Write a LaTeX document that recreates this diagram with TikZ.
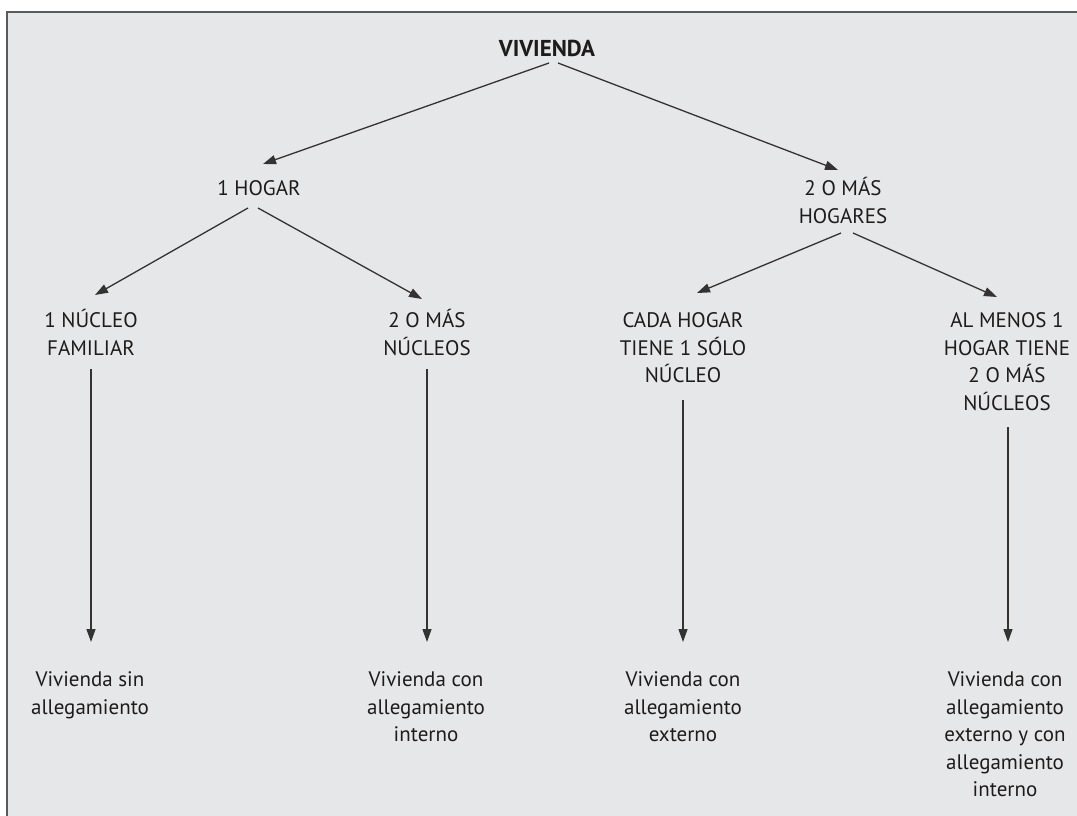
\documentclass[tikz,border=0pt]{standalone}
\usepackage{fontspec}
\setmainfont{PT Sans}
\usetikzlibrary{arrows.meta}
\definecolor{bg}{RGB}{230,231,232}
\definecolor{ink}{RGB}{30,27,28}
\definecolor{frame}{RGB}{90,90,90}
\begin{document}
\begin{tikzpicture}[x=1pt,y=-1pt,
  lbl/.style={anchor=north,inner sep=0pt,align=center,text height=#1,text=ink,
    font=\fontsize{21}{27.5}\selectfont},
  lbl/.default=14.5pt,
  head/.style={lbl=16pt,font=\fontsize{23}{27.5}\selectfont\bfseries},
  arr/.style={draw=ink!90,line width=1.3pt,-{Triangle[length=13pt,width=9pt]}}]
\useasboundingbox (0,0) rectangle (1077,816);
\clip (0,0) rectangle (1077,816);
\fill[white] (0,0) rectangle (1077,816);
\fill[bg] (7,12) rectangle (1090,830);
\draw[frame,line width=2.2pt] (7,830) -- (7,12) -- (1090,12);
% nodes
\node[head] (viv) at (547,40) {VIVIENDA};
\node[lbl] (h1) at (259,181) {1 HOGAR};
\node[lbl=42pt] (h2) at (843,181) {2 O MÁS\\HOGARES};
\node[lbl=42pt] (n1) at (91,313) {1 NÚCLEO\\FAMILIAR};
\node[lbl=42pt] (n2) at (427,313) {2 O MÁS\\NÚCLEOS};
\node[lbl=69.5pt] (cada) at (683,313) {CADA HOGAR\\TIENE 1 SÓLO\\NÚCLEO};
\node[lbl=97pt] (alm) at (1007,313) {AL MENOS 1\\HOGAR TIENE\\2 O MÁS\\NÚCLEOS};
\node[lbl=42pt] (b1) at (90,672) {Vivienda sin\\allegamiento};
\node[lbl=69.5pt] (b2) at (426,672) {Vivienda con\\allegamiento\\interno};
\node[lbl=69.5pt] (b3) at (683,672) {Vivienda con\\allegamiento\\externo};
\node[lbl=124.5pt] (b4) at (1005,672) {Vivienda con\\allegamiento\\externo y con\\allegamiento\\interno};
% connectors
\draw[arr] ([shift={(2,23)}]viv.north) -- ([shift={(4,-17)}]h1.north);
\draw[arr] ([shift={(11,23)}]viv.north) -- ([shift={(-5,-11)}]h2.north);
\draw[arr] ([shift={(-11,27)}]h1.north) -- ([shift={(4,-18)}]n1.north);
\draw[arr] ([shift={(-1,27)}]h1.north) -- ([shift={(-5,-14)}]n2.north);
\draw[arr] ([shift={(-2,52)}]h2.north) -- ([shift={(14,-20)}]cada.north);
\draw[arr] ([shift={(10,52)}]h2.north) -- ([shift={(-10,-16)}]alm.north);
\draw[arr] ([shift={(0,56)}]n1.north) -- ([shift={(1,-30)}]b1.north);
\draw[arr] ([shift={(0,56)}]n2.north) -- ([shift={(1,-30)}]b2.north);
\draw[arr] ([shift={(0,87)}]cada.north) -- ([shift={(0,-30)}]b3.north);
\draw[arr] ([shift={(1,114)}]alm.north) -- ([shift={(3,-30)}]b4.north);
\end{tikzpicture}
\end{document}
